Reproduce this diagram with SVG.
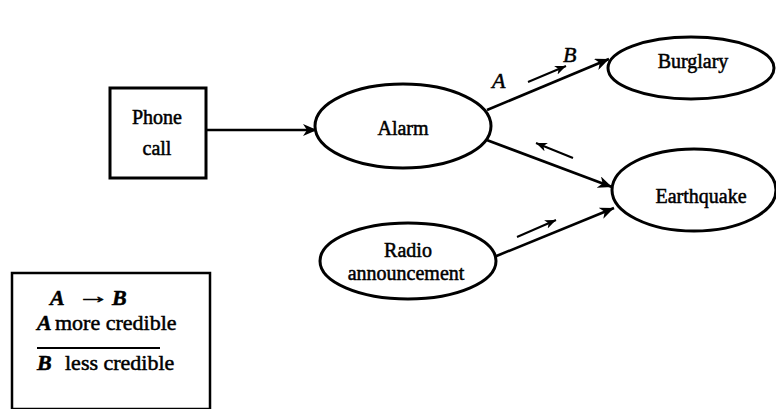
<svg xmlns="http://www.w3.org/2000/svg" width="776" height="409" viewBox="0 0 776 409">
  <style>
    .node { fill: #fff; stroke: #000; stroke-width: 3; }
    .label { font-family: "Liberation Serif", "Times New Roman", serif; font-size: 20px; fill: #000; stroke: #000; stroke-width: 0.5; text-anchor: middle; }
    .edge { fill: none; stroke: #000; stroke-width: 2.6; }
    .hint { fill: none; stroke: #000; stroke-width: 2; }
    .var { font-family: "Liberation Serif", "Times New Roman", serif; font-style: italic; font-size: 22px; fill: #000; stroke: #000; stroke-width: 0.5; }
    .legend { font-family: "Liberation Serif", "Times New Roman", serif; font-size: 22px; fill: #000; stroke: #000; stroke-width: 0.5; }
    .legend .v { font-style: italic; font-weight: bold; font-size: 22px; }
  </style>
  <defs>
    <marker id="head" markerUnits="userSpaceOnUse" markerWidth="16" markerHeight="12" refX="14" refY="6" orient="auto">
      <path d="M0,0 L14,6 L0,12 L4,6 Z" fill="#000"/>
    </marker>
    <marker id="small" markerUnits="userSpaceOnUse" markerWidth="12" markerHeight="10" refX="11" refY="5" orient="auto">
      <path d="M0,0.5 L11,5 L0,9.5 L3,5 Z" fill="#000"/>
    </marker>
  </defs>

  <g id="connectors">
    <path class="edge" d="M207,130 L317,130" marker-end="url(#head)"/>
    <path class="edge" d="M487,110 L609,59" marker-end="url(#head)"/>
    <path class="edge" d="M484,139 L612,187" marker-end="url(#head)"/>
    <path class="edge" d="M494,257 L614,208" marker-end="url(#head)"/>
    <!-- direction hints beside the edges -->
    <path class="hint" d="M528,82 L566,66" marker-end="url(#small)"/>
    <path class="hint" d="M573,158 L536,143" marker-end="url(#small)"/>
    <path class="hint" d="M517,237 L556,220" marker-end="url(#small)"/>
    <text class="var" x="492" y="88">A</text>
    <text class="var" x="563" y="62">B</text>
  </g>

  <g id="phone-call">
    <rect class="node" x="110" y="88" width="96" height="90"/>
    <text class="label" x="157" y="124">Phone</text>
    <text class="label" x="157" y="155">call</text>
  </g>

  <g id="alarm">
    <ellipse class="node" cx="403" cy="126" rx="88" ry="42"/>
    <text class="label" x="403" y="135">Alarm</text>
  </g>

  <g id="burglary">
    <ellipse class="node" cx="691" cy="68" rx="83" ry="31"/>
    <text class="label" x="693" y="68">Burglary</text>
  </g>

  <g id="earthquake">
    <ellipse class="node" cx="694" cy="190" rx="82" ry="41"/>
    <text class="label" x="701" y="203">Earthquake</text>
  </g>

  <g id="radio-announcement">
    <ellipse class="node" cx="408" cy="261" rx="88" ry="38"/>
    <text class="label" x="408" y="257">Radio</text>
    <text class="label" x="406" y="280">announcement</text>
  </g>

  <g id="legend">
    <rect x="12" y="273" width="198" height="136" fill="#fff" stroke="#000" stroke-width="2.5"/>
    <text class="legend" y="305"><tspan class="v" x="50">A</tspan><tspan class="v" x="112">B</tspan></text>
    <text class="legend" x="77" y="303" font-family="DejaVu Sans, sans-serif" font-size="22" textLength="33" lengthAdjust="spacingAndGlyphs">→</text>
    <text class="legend" y="330"><tspan class="v" x="37">A</tspan><tspan x="55">more credible</tspan></text>
    <line x1="37" y1="348" x2="160" y2="348" stroke="#000" stroke-width="2"/>
    <text class="legend" y="370"><tspan class="v" x="37">B</tspan><tspan x="65">less credible</tspan></text>
  </g>
</svg>
